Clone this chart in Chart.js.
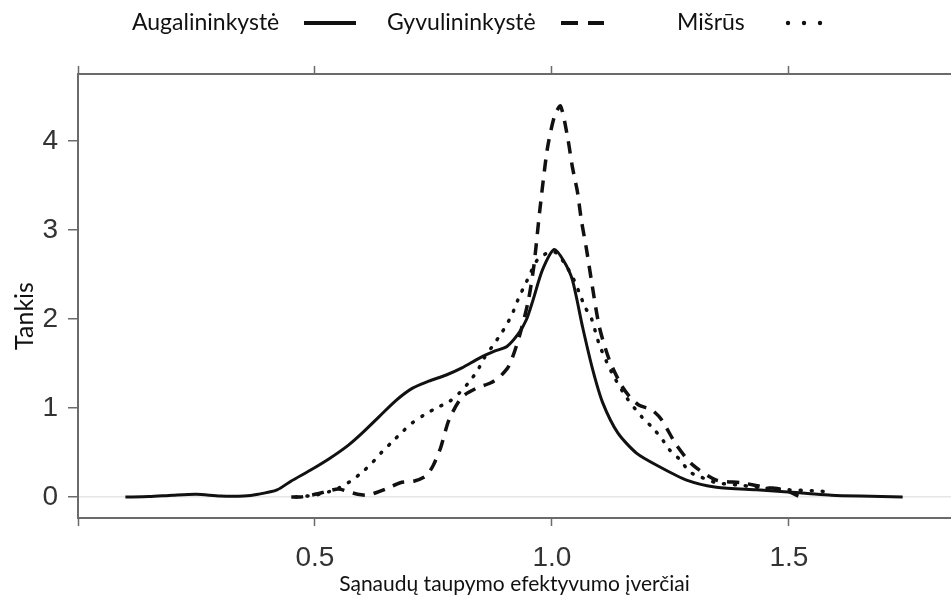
<!DOCTYPE html>
<html>
<head>
<meta charset="utf-8">
<script src="https://cdn.jsdelivr.net/npm/chart.js@4"></script>
<style>
    html, body { margin: 0; padding: 0; background: #fff; }
    #wrap { width: 951px; height: 608px; }
</style>
</head>
<body>
<div id="wrap"><canvas id="densityChart"></canvas></div>
<script>
// ===============================
// DATA
// ===============================

const xTicks = [0, 0.5, 1.0, 1.5];
const yTicks = [0, 1, 2, 3, 4];

const seriesNames = ['Augalininkystė', 'Gyvulininkystė', 'Mišrūs'];

// Augalininkystė (solid)
const augX = [0.10, 0.15, 0.20, 0.25, 0.30, 0.35, 0.38, 0.42, 0.45, 0.49, 0.53, 0.57, 0.60, 0.635, 0.67, 0.705, 0.74, 0.777, 0.81, 0.847, 0.88, 0.905, 0.93, 0.946, 0.96, 0.98, 1.005, 1.025, 1.043, 1.065, 1.086, 1.107, 1.139, 1.179, 1.227, 1.284, 1.347, 1.432, 1.49, 1.54, 1.59, 1.65, 1.74];
const augY = [0.00, 0.005, 0.02, 0.03, 0.01, 0.01, 0.03, 0.08, 0.18, 0.30, 0.43, 0.58, 0.72, 0.90, 1.08, 1.22, 1.30, 1.37, 1.45, 1.56, 1.64, 1.69, 1.84, 1.99, 2.21, 2.55, 2.78, 2.65, 2.44, 1.90, 1.43, 1.06, 0.72, 0.49, 0.34, 0.19, 0.11, 0.08, 0.06, 0.04, 0.02, 0.01, 0.00];

// Gyvulininkystė (dashed)
const gyvX = [0.45, 0.47, 0.50, 0.53, 0.55, 0.57, 0.59, 0.61, 0.63, 0.65, 0.68, 0.71, 0.735, 0.75, 0.765, 0.783, 0.81, 0.84, 0.87, 0.89, 0.91, 0.931, 0.95, 0.962, 0.974, 0.99, 1.005, 1.018, 1.033, 1.043, 1.054, 1.062, 1.073, 1.083, 1.10, 1.121, 1.146, 1.165, 1.184, 1.21, 1.231, 1.263, 1.297, 1.347, 1.40, 1.45, 1.49, 1.52];
const gyvY = [0.00, 0.00, 0.03, 0.07, 0.09, 0.06, 0.03, 0.02, 0.05, 0.09, 0.16, 0.18, 0.24, 0.36, 0.55, 0.87, 1.12, 1.22, 1.28, 1.35, 1.48, 1.80, 2.20, 2.60, 3.20, 3.90, 4.27, 4.39, 4.04, 3.71, 3.42, 3.11, 2.78, 2.44, 1.91, 1.54, 1.26, 1.12, 1.03, 0.98, 0.87, 0.58, 0.36, 0.19, 0.16, 0.11, 0.08, 0.01];

// Mišrūs (dotted)
const misX = [0.46, 0.50, 0.53, 0.55, 0.576, 0.60, 0.62, 0.642, 0.663, 0.684, 0.705, 0.73, 0.756, 0.783, 0.805, 0.825, 0.843, 0.857, 0.874, 0.891, 0.906, 0.919, 0.931, 0.944, 0.956, 0.969, 0.994, 1.01, 1.033, 1.048, 1.058, 1.07, 1.083, 1.10, 1.126, 1.157, 1.191, 1.212, 1.231, 1.248, 1.27, 1.291, 1.316, 1.347, 1.40, 1.45, 1.50, 1.55, 1.58];
const misY = [0.00, 0.02, 0.06, 0.10, 0.18, 0.28, 0.38, 0.51, 0.62, 0.73, 0.83, 0.92, 1.00, 1.07, 1.17, 1.29, 1.42, 1.56, 1.69, 1.82, 1.95, 2.09, 2.25, 2.39, 2.53, 2.66, 2.75, 2.74, 2.57, 2.42, 2.29, 2.13, 2.01, 1.71, 1.40, 1.12, 0.89, 0.78, 0.66, 0.53, 0.42, 0.28, 0.22, 0.16, 0.13, 0.10, 0.08, 0.07, 0.06];

const toPoints = (xs, ys) => xs.map((x, i) => ({ x: x, y: ys[i] }));

// ===============================
// LEGEND ABOVE THE PLOT + Y TITLE
// ===============================

const LABEL_FONT = 'Lato, "Open Sans", sans-serif';
const AXIS_COLOR = '#6b6b6b';
const TICK_FONT = '"Liberation Sans", Arial, sans-serif';

const topLegend = {
    id: 'topLegend',
    afterDraw(chart) {
        const ctx = chart.ctx;
        const y = 23;
        ctx.save();
        ctx.fillStyle = '#111';
        ctx.font = '23px ' + LABEL_FONT;
        ctx.textBaseline = 'middle';
        ctx.fillText(seriesNames[0], 132, y);
        ctx.fillText(seriesNames[1], 387, y);
        ctx.fillText(seriesNames[2], 677, y);

        ctx.strokeStyle = '#111';
        ctx.lineWidth = 4;

        // solid sample
        ctx.beginPath();
        ctx.moveTo(304, y);
        ctx.lineTo(356, y);
        ctx.stroke();

        // dashed sample
        ctx.beginPath();
        ctx.moveTo(561, y);
        ctx.lineTo(578, y);
        ctx.moveTo(588, y);
        ctx.lineTo(604, y);
        ctx.stroke();

        // dotted sample
        [788, 804, 820].forEach(px => {
            ctx.beginPath();
            ctx.arc(px, y, 2.2, 0, Math.PI * 2);
            ctx.fill();
        });

        // y axis title, sits a bit below the middle like in the original
        ctx.translate(25, 316);
        ctx.rotate(-Math.PI / 2);
        ctx.font = '25px ' + LABEL_FONT;
        ctx.textAlign = 'center';
        ctx.fillText('Tankis', 0, 0);
        ctx.restore();
    }
};

// ===============================
// DENSITY CHART
// ===============================

const chartCtx = document.getElementById('densityChart');

new Chart(chartCtx, {
    type: 'line',
    data: {
        datasets: [
            {
                label: seriesNames[0],
                data: toPoints(augX, augY),
                borderColor: '#111',
                borderWidth: 3,
                pointRadius: 0,
                tension: 0.25,
                xAxisID: 'x'
            },
            {
                label: seriesNames[1],
                data: toPoints(gyvX, gyvY),
                borderColor: '#111',
                borderWidth: 3.5,
                borderDash: [12, 9],
                pointRadius: 0,
                tension: 0.25,
                xAxisID: 'x'
            },
            {
                label: seriesNames[2],
                data: toPoints(misX, misY),
                borderColor: '#111',
                borderWidth: 3.5,
                borderDash: [1, 10],
                borderCapStyle: 'round',
                pointRadius: 0,
                tension: 0.25,
                xAxisID: 'x'
            }
        ]
    },
    options: {
        responsive: true,
        maintainAspectRatio: false,
        animation: false,
        layout: { padding: 0 },
        plugins: {
            legend: { display: false },
            tooltip: { enabled: false }
        },
        scales: {
            x: {
                type: 'linear',
                position: 'bottom',
                min: 0,
                max: 1.842,
                afterBuildTicks: s => { s.ticks = xTicks.map(v => ({ value: v })); },
                afterFit: s => { s.height = 90; },
                ticks: {
                    font: { family: TICK_FONT, size: 28 },
                    color: '#333',
                    padding: 15,
                    maxRotation: 0,
                    callback: v => (v === 0 ? '' : v.toFixed(1))
                },
                grid: {
                    drawOnChartArea: false,
                    tickLength: 8,
                    tickColor: AXIS_COLOR,
                    tickWidth: 1.5
                },
                border: { color: AXIS_COLOR, width: 2 },
                title: {
                    display: true,
                    text: 'Sąnaudų taupymo efektyvumo įverčiai',
                    font: { family: LABEL_FONT, size: 21 },
                    color: '#111',
                    padding: { top: 0, bottom: 11 }
                }
            },
            xTop: {
                type: 'linear',
                position: 'top',
                min: 0,
                max: 1.842,
                afterBuildTicks: s => { s.ticks = xTicks.map(v => ({ value: v })); },
                afterFit: s => { s.height = 74; },
                ticks: { display: false },
                grid: {
                    drawOnChartArea: false,
                    tickLength: 8,
                    tickColor: AXIS_COLOR,
                    tickWidth: 1.5
                },
                border: { color: AXIS_COLOR, width: 2 }
            },
            y: {
                min: -0.236,
                max: 4.75,
                afterBuildTicks: s => { s.ticks = yTicks.map(v => ({ value: v })); },
                afterFit: s => { s.width = 78; },
                ticks: {
                    font: { family: TICK_FONT, size: 28 },
                    color: '#333',
                    padding: 10
                },
                grid: {
                    color: c => (c.tick && c.tick.value === 0 ? '#e6e6e6' : 'rgba(0,0,0,0)'),
                    lineWidth: 1.5,
                    tickLength: 10,
                    tickColor: AXIS_COLOR,
                    tickWidth: 1.5
                },
                border: { color: AXIS_COLOR, width: 2 }
            }
        }
    },
    plugins: [topLegend]
});
</script>
</body>
</html>
